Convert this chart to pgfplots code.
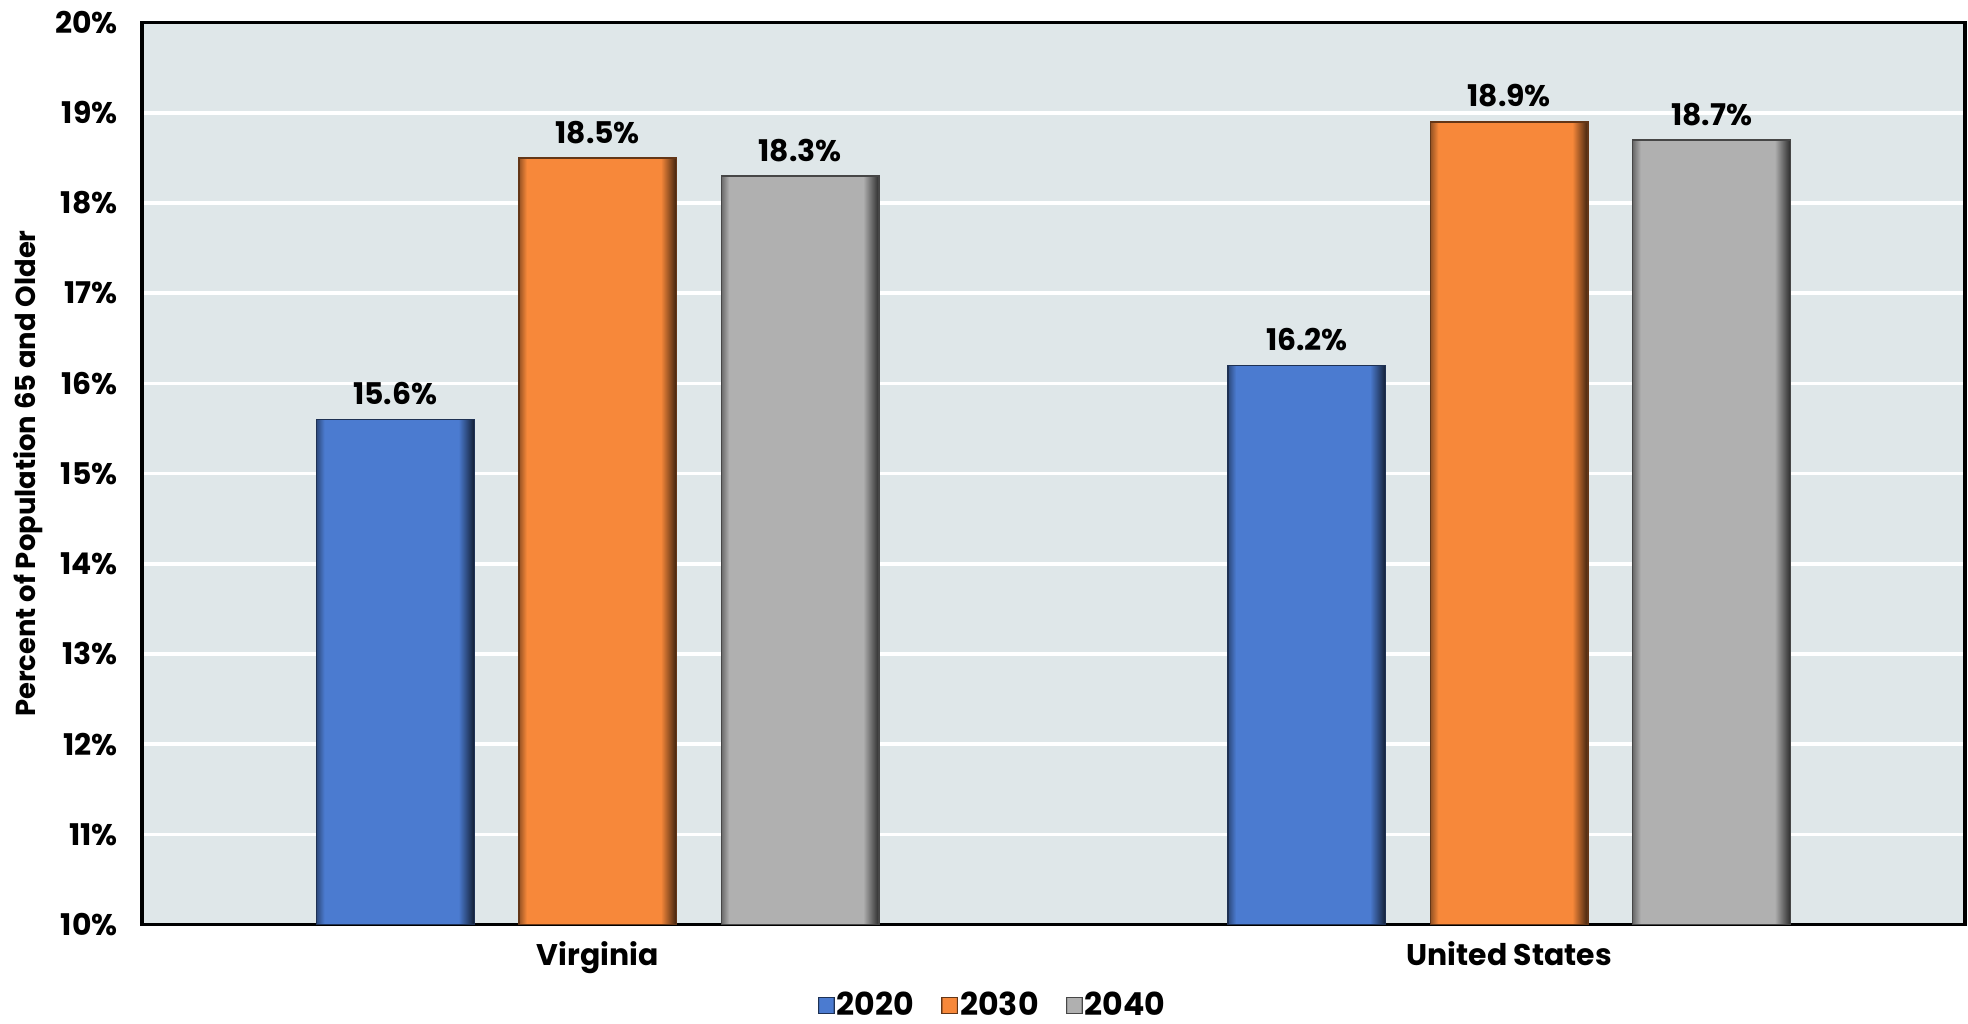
\documentclass[border=0pt]{standalone}
\usepackage{fontspec}
\setmainfont{Poppins}
\usepackage{pgfplots}
\usetikzlibrary{calc}
\pgfplotsset{compat=1.18}
\definecolor{bgc}{HTML}{DFE7E9}
\definecolor{cb}{HTML}{4B7BD0}
\definecolor{co}{HTML}{F7883A}
\definecolor{cg}{HTML}{B0B0B0}
\pgfdeclarehorizontalshading{sb}{100bp}{color(0bp)=(cb!60!black); color(25bp)=(cb!60!black); color(27.5bp)=(cb); color(70bp)=(cb); color(75bp)=(cb!25!black); color(100bp)=(cb!25!black)}
\pgfdeclarehorizontalshading{so}{100bp}{color(0bp)=(co!60!black); color(25bp)=(co!60!black); color(27.5bp)=(co); color(70bp)=(co); color(75bp)=(co!25!black); color(100bp)=(co!25!black)}
\pgfdeclarehorizontalshading{sg}{100bp}{color(0bp)=(cg!60!black); color(25bp)=(cg!60!black); color(27.5bp)=(cg); color(70bp)=(cg); color(75bp)=(cg!25!black); color(100bp)=(cg!25!black)}
\pgfplotsset{
  barb/.style={bar shift=-0.222, shade, shading=sb, draw=cb!40!black, line width=0.4pt},
  baro/.style={bar shift=0, shade, shading=so, draw=co!40!black, line width=0.4pt},
  barg/.style={bar shift=0.222, shade, shading=sg, draw=cg!40!black, line width=0.4pt},
}
\begin{document}
\begin{tikzpicture}
\begin{axis}[
  name=ax,
  width=18.23cm, height=9.02cm, scale only axis,
  xmin=-0.5, xmax=1.5, ymin=10, ymax=20,
  xtick={0,1}, xticklabels={Virginia, United States},
  ytick={10,11,...,20},
  yticklabel={\pgfmathprintnumber{\tick}\%},
  /pgf/number format/assume math mode=true,
  axis background/.style={fill=bgc},
  ymajorgrids, grid style={white, line width=1pt},
  axis line style={black, line width=0.9pt},
  tick style={draw=none},
  font=\bfseries\fontsize{8.5}{10}\selectfont,
  yticklabel style={xshift=-0.12cm},
  xticklabel style={yshift=0.1cm},
  ylabel={Percent of Population 65 and Older},
  ylabel style={font=\bfseries\fontsize{7.8}{9}\selectfont, at={(axis description cs:-0.0625,0.5)}, anchor=center},
  ybar, bar width=0.173,
  nodes near coords={\pgfmathprintnumber[fixed,fixed zerofill,precision=1]{\pgfplotspointmeta}\%},
  nodes near coords style={font=\bfseries\fontsize{8.5}{10}\selectfont, black, yshift=0.02cm},
  legend style={at={(axis description cs:0.468,-0.0905)}, anchor=center, draw=none, fill=none, legend columns=3, font=\bfseries\fontsize{9}{10}\selectfont, inner sep=1pt, /tikz/every even column/.append style={column sep=0.2cm}, /tikz/every odd column/.append style={column sep=-0.05cm}},
  legend image code/.code={\draw[#1,line width=0.3pt] (0cm,-0.075cm) rectangle (0.16cm,0.085cm);},
]
\addplot[barb] coordinates {(0,15.6)};
\addplot[baro] coordinates {(0,18.5)};
\addplot[barg] coordinates {(0,18.3)};
\addplot[barb, forget plot] coordinates {(1,16.2)};
\addplot[baro, forget plot] coordinates {(1,18.9)};
\addplot[barg, forget plot] coordinates {(1,18.7)};
\legend{2020,2030,2040}
\end{axis}
\pgfresetboundingbox
\path (ax.south west) ++(-1.42cm,-0.99cm) rectangle ($(ax.north east)+(0.03cm,0.226cm)$);
\end{tikzpicture}
\end{document}
